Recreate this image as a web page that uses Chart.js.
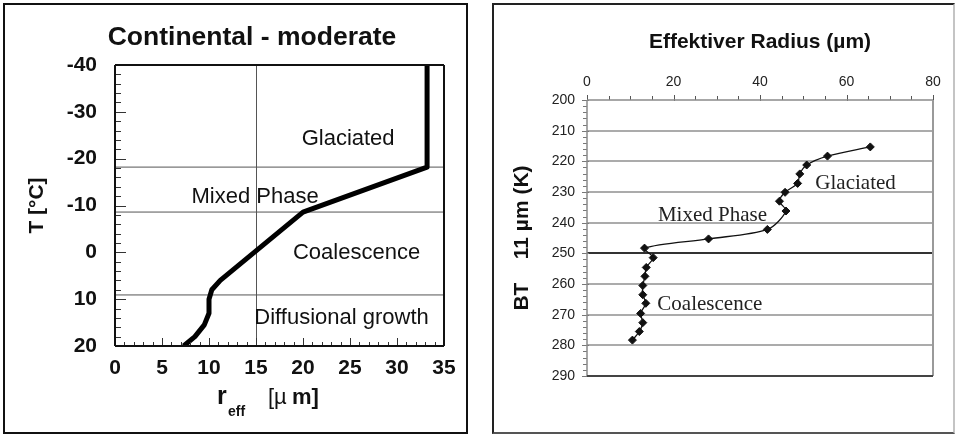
<!DOCTYPE html>
<html><head><meta charset="utf-8">
<script src="https://cdn.jsdelivr.net/npm/chart.js@4.4.1/dist/chart.umd.min.js"></script>
<style>
body{margin:0;background:#fff;width:957px;height:434px;overflow:hidden;position:relative;}
#p1{position:absolute;left:3px;top:3px;width:461px;height:427px;border:2px solid #111;}
#p2{position:absolute;left:492px;top:3px;width:459px;height:427px;border-left:2px solid #222;border-top:2px solid #222;border-right:2px solid #c4c4c4;border-bottom:2px solid #555;}
canvas{position:absolute;top:0;}
</style></head>
<body>
<div id="p1"></div><div id="p2"></div>
<canvas id="c1" style="left:0;width:480px;height:434px" width="480" height="434"></canvas>
<canvas id="c2" style="left:480px;width:477px;height:434px" width="477" height="434"></canvas>
<script>
// ---------- Left panel data: Continental - moderate ----------
const contRadius = [33.2, 33.2, 20.0, 11.2, 10.3, 10.0, 10.0, 9.5, 8.5, 7.3];
const contTemp   = [-40, -18.2, -8.6, 6.0, 8.0, 10.0, 13.0, 15.5, 18.0, 20.0];
const phaseBoundsT = [-18.2, -8.6, 9.1];
const contXTicks = [0, 5, 10, 15, 20, 25, 30, 35];
const contYTicks = [-40, -30, -20, -10, 0, 10, 20];
const contGridX = [15];
const contLabels = ['Glaciated', 'Mixed Phase', 'Coalescence', 'Diffusional growth'];
const contLabelR = [24.8, 14.9, 25.7, 24.1];
const contLabelT = [-24.2, -11.8, 0.2, 14.1];

// ---------- Right panel data: BT 11 µm vs effective radius ----------
const btRadius = [65.5, 55.6, 50.8, 49.2, 48.7, 45.8, 44.5, 46.0, 41.7, 28.1, 13.3, 15.3, 13.7, 13.4, 12.9, 12.9, 13.6, 12.4, 12.9, 12.1, 10.5];
const btTemp   = [215.3, 218.3, 221.2, 224.1, 227.2, 230.1, 233.0, 236.2, 242.2, 245.3, 248.3, 251.4, 254.6, 257.5, 260.5, 263.5, 266.3, 269.6, 272.6, 275.5, 278.3];
const btXTicks = [0, 20, 40, 60, 80];
const btYTicks = [200, 210, 220, 230, 240, 250, 260, 270, 280, 290];
const btLabels = ['Glaciated', 'Mixed Phase', 'Coalescence'];
const btLabelR = [62.1, 29.0, 28.4];
const btLabelT = [227.1, 237.5, 266.8];

const SANS = '"Liberation Sans", Arial, Helvetica, sans-serif';
const SERIF = '"Liberation Serif", "Times New Roman", serif';

// ---------- helper plugins ----------
const tickMarks = {
  id: 'tickMarks',
  afterDatasetsDraw(chart, args, opts) {
    const ctx = chart.ctx, ca = chart.chartArea;
    (opts.axes || []).forEach(a => {
      const s = chart.scales[a.id];
      ctx.save();
      ctx.strokeStyle = a.color; ctx.lineWidth = a.width || 1;
      const lo = Math.min(s.min, s.max), hi = Math.max(s.min, s.max);
      for (let v = lo; v <= hi + 1e-9; v += a.minor) {
        const q = v / a.major;
        const major = Math.abs(q - Math.round(q)) < 1e-6;
        const span = major ? a.majorSpan : a.minorSpan;
        const p = Math.round(s.getPixelForValue(v)) + 0.5;
        ctx.beginPath();
        if (a.edge === 'left') {
          ctx.moveTo(ca.left + span[0], p); ctx.lineTo(ca.left + span[1], p);
        } else {
          const base = a.edge === 'bottom' ? ca.bottom : ca.top;
          const sg = a.edge === 'bottom' ? -1 : 1;
          ctx.moveTo(p, base + sg * span[0]); ctx.lineTo(p, base + sg * span[1]);
        }
        ctx.stroke();
      }
      ctx.restore();
    });
  }
};

const frame = {
  id: 'frame',
  afterDatasetsDraw(chart, args, opts) {
    const ctx = chart.ctx, ca = chart.chartArea;
    ctx.save();
    (opts.sides || []).forEach(sd => {
      ctx.strokeStyle = sd.color; ctx.lineWidth = sd.width;
      ctx.beginPath();
      if (sd.side === 'top') { ctx.moveTo(ca.left, ca.top); ctx.lineTo(ca.right, ca.top); }
      if (sd.side === 'bottom') { ctx.moveTo(ca.left, ca.bottom); ctx.lineTo(ca.right, ca.bottom); }
      if (sd.side === 'left') { ctx.moveTo(ca.left, ca.top); ctx.lineTo(ca.left, ca.bottom); }
      if (sd.side === 'right') { ctx.moveTo(ca.right, ca.top); ctx.lineTo(ca.right, ca.bottom); }
      ctx.stroke();
    });
    ctx.restore();
  }
};

const textLabels = {
  id: 'textLabels',
  afterDraw(chart, args, opts) {
    const ctx = chart.ctx;
    ctx.save();
    ctx.textAlign = 'center'; ctx.textBaseline = 'middle';
    (opts.items || []).forEach(it => {
      ctx.font = it.font; ctx.fillStyle = it.color;
      const x = chart.scales.x.getPixelForValue(it.x);
      const y = chart.scales.y.getPixelForValue(it.y);
      ctx.fillText(it.text, x, y);
    });
    (opts.free || []).forEach(it => {
      ctx.font = it.font; ctx.fillStyle = it.color;
      ctx.textAlign = it.align || 'left'; ctx.textBaseline = it.baseline || 'alphabetic';
      ctx.fillText(it.text, it.px, it.py);
    });
    ctx.restore();
  }
};

// ---------- Left chart ----------
const leftDatasets = [{
  data: contRadius.map((r, i) => ({x: r, y: contTemp[i]})),
  borderColor: '#000', borderWidth: 5, pointRadius: 0, tension: 0,
  borderJoinStyle: 'round', borderCapStyle: 'butt', order: 0
}].concat(phaseBoundsT.map(t => ({
  data: [{x: contXTicks[0], y: t}, {x: contXTicks[contXTicks.length - 1], y: t}],
  borderColor: '#555', borderWidth: 1, pointRadius: 0, order: 1
})));

new Chart(document.getElementById('c1'), {
  type: 'line',
  data: {datasets: leftDatasets},
  options: {
    responsive: false, animation: false, events: [],
    layout: {padding: {left: 0, right: 36, top: 65, bottom: 0}},
    plugins: {
      legend: {display: false}, tooltip: {enabled: false},
      tickMarks: {axes: [
        {id: 'y', edge: 'left', minor: 2, major: 10, minorSpan: [0, 6], majorSpan: [0, 11], color: '#333', width: 1},
        {id: 'x', edge: 'bottom', minor: 1, major: 5, minorSpan: [0, 4], majorSpan: [0, 8], color: '#333', width: 1}
      ]},
      frame: {sides: [
        {side: 'top', color: '#111', width: 2}, {side: 'bottom', color: '#111', width: 2},
        {side: 'left', color: '#111', width: 2}, {side: 'right', color: '#111', width: 2}
      ]},
      textLabels: {
        items: contLabels.map((t, i) => ({text: t, x: contLabelR[i], y: contLabelT[i], font: '22px ' + SANS, color: '#111'})),
        free: [
          {text: 'Continental - moderate', px: 252, py: 38, font: 'bold 26.5px ' + SANS, color: '#111', align: 'center', baseline: 'middle'},
          {text: 'r', px: 217, py: 404, font: 'bold 25px ' + SANS, color: '#111'},
          {text: 'eff', px: 228, py: 416, font: 'bold 14px ' + SANS, color: '#111'},
          {text: '[\u00b5', px: 268, py: 404, font: '22px ' + SANS, color: '#111'},
          {text: 'm]', px: 292, py: 404, font: 'bold 22px ' + SANS, color: '#111'}
        ]
      }
    },
    scales: {
      x: {
        type: 'linear', min: contXTicks[0], max: contXTicks[contXTicks.length - 1],
        afterBuildTicks: s => { s.ticks = contXTicks.map(v => ({value: v})); },
        ticks: {font: {family: SANS, size: 21, weight: 'bold'}, color: '#111', padding: 10, maxRotation: 0},
        grid: {drawTicks: false, lineWidth: 1, color: c => (c.tick && contGridX.includes(c.tick.value)) ? '#555' : 'rgba(0,0,0,0)'},
        border: {display: false},
        afterFit: s => { s.height = 88; }
      },
      y: {
        type: 'linear', min: contYTicks[0], max: contYTicks[contYTicks.length - 1], reverse: true,
        afterBuildTicks: s => { s.ticks = contYTicks.map(v => ({value: v})); },
        ticks: {font: {family: SANS, size: 21, weight: 'bold'}, color: '#111', padding: 18},
        grid: {display: false, drawTicks: false},
        border: {display: false},
        title: {display: true, text: 'T [\u00b0C]', font: {family: SANS, size: 21, weight: 'bold'}, color: '#111', padding: {top: 25, bottom: 0}},
        afterFit: s => { s.width = 115; }
      }
    }
  },
  plugins: [tickMarks, frame, textLabels]
});

// ---------- Right chart ----------
new Chart(document.getElementById('c2'), {
  type: 'line',
  data: {datasets: [{
    data: btRadius.map((r, i) => ({x: r, y: btTemp[i]})),
    borderColor: '#111', borderWidth: 1.3, tension: 0.3,
    pointStyle: 'rectRot', pointRadius: 4, pointBackgroundColor: '#111', pointBorderColor: '#111', pointBorderWidth: 1
  }]},
  options: {
    responsive: false, animation: false, events: [],
    layout: {padding: {left: 0, right: 24, top: 0, bottom: 58}},
    plugins: {
      legend: {display: false}, tooltip: {enabled: false},
      title: {display: true, fullSize: false, text: 'Effektiver Radius (\u00b5m)', font: {family: SANS, size: 21, weight: 'bold'}, color: '#111', padding: {top: 30, bottom: 10}},
      tickMarks: {axes: [
        {id: 'y', edge: 'left', minor: 2, major: 10, minorSpan: [-4, 0], majorSpan: [-5, 2], color: '#777', width: 1},
        {id: 'x', edge: 'top', minor: 5, major: 20, minorSpan: [-4, 0], majorSpan: [-5, 1], color: '#555', width: 1}
      ]},
      frame: {sides: [
        {side: 'top', color: '#8a8a8a', width: 1.5}, {side: 'left', color: '#8a8a8a', width: 1.5},
        {side: 'right', color: '#9a9a9a', width: 2}, {side: 'bottom', color: '#444', width: 2}
      ]},
      textLabels: {
        items: btLabels.map((t, i) => ({text: t, x: btLabelR[i], y: btLabelT[i], font: '21px ' + SERIF, color: '#222'}))
      }
    },
    scales: {
      x: {
        type: 'linear', position: 'top', min: btXTicks[0], max: btXTicks[btXTicks.length - 1],
        afterBuildTicks: s => { s.ticks = btXTicks.map(v => ({value: v})); },
        ticks: {font: {family: SANS, size: 14}, color: '#222', padding: 9, maxRotation: 0},
        grid: {display: false, drawTicks: false},
        border: {display: false},
        afterFit: s => { s.height = 34.8; }
      },
      y: {
        type: 'linear', min: btYTicks[0], max: btYTicks[btYTicks.length - 1], reverse: true,
        afterBuildTicks: s => { s.ticks = btYTicks.map(v => ({value: v})); },
        ticks: {font: {family: SANS, size: 14}, color: '#222', padding: 12},
        grid: {drawTicks: false, lineWidth: 2,
          color: c => {
            const v = c.tick ? c.tick.value : null;
            if (v === btYTicks[0] || v === btYTicks[btYTicks.length - 1]) return 'rgba(0,0,0,0)';
            return v === 250 ? '#333' : '#ababab';
          }},
        border: {display: false},
        title: {display: true, text: 'BT    11 \u00b5m (K)', font: {family: SANS, size: 21, weight: 'bold'}, color: '#111', padding: {top: 30, bottom: 0}},
        afterFit: s => { s.width = 107; }
      }
    }
  },
  plugins: [tickMarks, frame, textLabels]
});
</script>
</body></html>
